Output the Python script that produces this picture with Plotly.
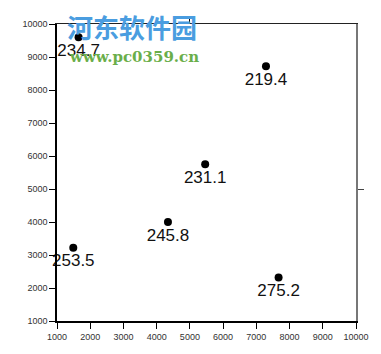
import plotly.graph_objects as go

x_vals = [1650, 7290, 5460, 4340, 1490, 7670]
y_vals = [9600, 8720, 5750, 4000, 3220, 2320]
labels = ["234.7", "219.4", "231.1", "245.8", "253.5", "275.2"]
tick_vals = [1000, 2000, 3000, 4000, 5000, 6000, 7000, 8000, 9000, 10000]
tick_text = ["1000", "2000", "3000", "4000", "5000", "6000", "7000", "8000", "9000", "10000"]

fig = go.Figure()
fig.add_trace(go.Scatter(
    x=x_vals, y=y_vals, mode="markers+text",
    text=labels, textposition="bottom center",
    textfont=dict(family="Liberation Sans, Arial", size=17, color="#111"),
    marker=dict(color="black", size=8),
    showlegend=False, cliponaxis=False,
))
# invisible trace to activate top/right axes
fig.add_trace(go.Scatter(x=[None], y=[None], xaxis="x2", yaxis="y2", showlegend=False))

axis_font = dict(family="Liberation Sans, Arial", size=9, color="#333")
fig.update_layout(
    width=381, height=354,
    margin=dict(l=57, r=24, t=24, b=30),
    plot_bgcolor="white", paper_bgcolor="white",
    xaxis=dict(range=[1000, 10000], tickvals=tick_vals, ticktext=tick_text, ticks="outside", ticklen=6,
               tickcolor="black", showline=True, linecolor="black", linewidth=1.5,
               showgrid=False, zeroline=False, tickfont=axis_font),
    yaxis=dict(range=[1000, 10000], tickvals=tick_vals, ticktext=tick_text, ticks="outside", ticklen=6,
               tickcolor="black", showline=True, linecolor="black", linewidth=1.5,
               showgrid=False, zeroline=False, tickfont=axis_font),
    xaxis2=dict(range=[1000, 10000], overlaying="x", side="top", tickvals=[5000],
                ticks="outside", ticklen=6, tickcolor="black", showticklabels=False,
                showline=True, linecolor="#222", linewidth=1.2, showgrid=False, zeroline=False),
    yaxis2=dict(range=[1000, 10000], overlaying="y", side="right", tickvals=[5000],
                ticks="outside", ticklen=6, tickcolor="#444", showticklabels=False,
                showline=True, linecolor="#777", linewidth=1.5, showgrid=False, zeroline=False),
    annotations=[
        dict(text="<b>河东软件园</b>", xref="paper", yref="paper", x=0.027, y=0.99,
             xanchor="left", yanchor="middle", showarrow=False,
             font=dict(family="Noto Sans CJK SC", size=26, color="#4a9de0")),
        dict(text="<b>www.pc0359.cn</b>", xref="paper", yref="paper", x=0.035, y=0.89,
             xanchor="left", yanchor="middle", showarrow=False,
             font=dict(family="DejaVu Serif", size=15, color="#6aae4a")),
    ],
)

fig.write_html("out.html")
